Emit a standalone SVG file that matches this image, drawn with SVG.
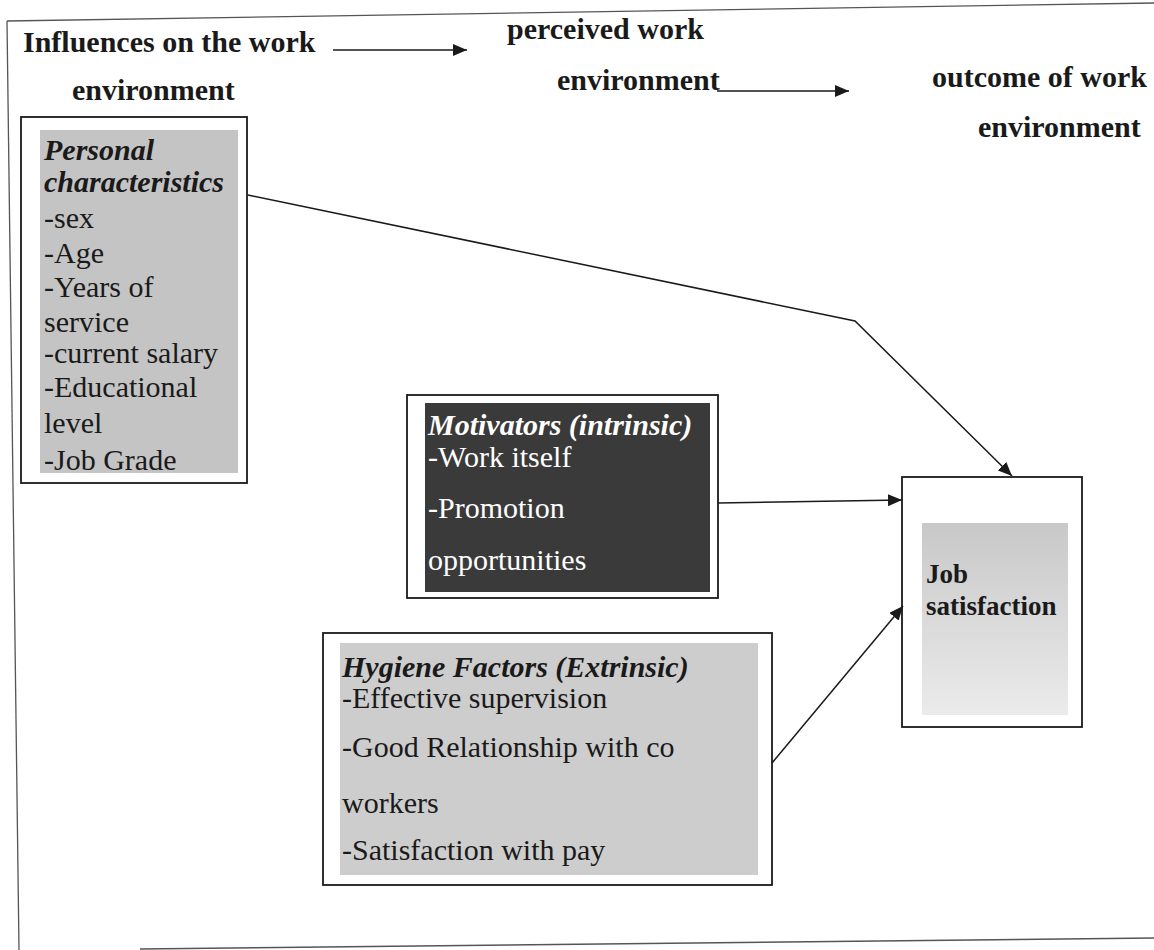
<svg xmlns="http://www.w3.org/2000/svg" width="1154" height="950" viewBox="0 0 1154 950">
  <defs>
    <marker id="arrow" viewBox="0 0 14 12" refX="14" refY="6" markerWidth="14" markerHeight="12" markerUnits="userSpaceOnUse" orient="auto">
      <path d="M0,0 L14,6 L0,12 Z" fill="#1a1a1a"/>
    </marker>
    <linearGradient id="jobFill" x1="0" y1="0" x2="0" y2="1">
      <stop offset="0" stop-color="#c8c8c8"/>
      <stop offset="1" stop-color="#ebebeb"/>
    </linearGradient>
  </defs>
  <style>
    text { font-family: "Liberation Serif", "Times New Roman", serif; font-size: 30px; fill: #1a1a1a; }
    .head { font-weight: bold; }
    .title { font-weight: bold; font-style: italic; }
    .light { fill: #ffffff; }
    .box { fill: #ffffff; stroke: #1a1a1a; stroke-width: 1.8; }
    .frame { fill: none; stroke: #555555; stroke-width: 1.3; }
    .link { fill: none; stroke: #1a1a1a; stroke-width: 1.5; }
  </style>

  <rect width="1154" height="950" fill="#ffffff"/>

  <!-- page frame -->
  <g id="frame">
    <line class="frame" x1="7" y1="21" x2="1154" y2="3"/>
    <line class="frame" x1="7" y1="21" x2="19" y2="950"/>
    <line class="frame" x1="140" y1="949" x2="1154" y2="938"/>
  </g>

  <!-- column headings -->
  <g id="headings">
    <text class="head" x="23" y="52">Influences on the work</text>
    <text class="head" x="72" y="100">environment</text>
    <text class="head" x="507" y="39">perceived work</text>
    <text class="head" x="557" y="90">environment</text>
    <text class="head" x="932" y="87">outcome of work</text>
    <text class="head" x="978" y="137">environment</text>
    <line class="link" x1="333" y1="50" x2="467" y2="50" marker-end="url(#arrow)"/>
    <line class="link" x1="717" y1="91" x2="849" y2="91" marker-end="url(#arrow)"/>
  </g>

  <!-- personal characteristics -->
  <g id="personal">
    <rect class="box" x="21" y="117" width="226" height="366"/>
    <rect x="40" y="130" width="198" height="343" fill="#c4c4c4"/>
    <text class="title" x="44" y="160">Personal</text>
    <text class="title" x="44" y="192">characteristics</text>
    <text x="44" y="228">-sex</text>
    <text x="44" y="263">-Age</text>
    <text x="44" y="297">-Years of</text>
    <text x="44" y="332">service</text>
    <text x="44" y="363">-current salary</text>
    <text x="44" y="397">-Educational</text>
    <text x="44" y="433">level</text>
    <text x="44" y="470">-Job Grade</text>
  </g>

  <!-- motivators -->
  <g id="motivators">
    <rect class="box" x="407" y="395" width="311" height="203"/>
    <rect x="425" y="403" width="285" height="189" fill="#3a3a3a"/>
    <text class="title light" x="428" y="435">Motivators (intrinsic)</text>
    <text class="light" x="428" y="467">-Work itself</text>
    <text class="light" x="428" y="518">-Promotion</text>
    <text class="light" x="428" y="570">opportunities</text>
  </g>

  <!-- hygiene factors -->
  <g id="hygiene">
    <rect class="box" x="323" y="633" width="449" height="252"/>
    <rect x="340" y="643" width="418" height="232" fill="#cdcdcd"/>
    <text class="title" x="342" y="677">Hygiene Factors (Extrinsic)</text>
    <text x="342" y="708">-Effective supervision</text>
    <text x="342" y="757">-Good Relationship with co</text>
    <text x="342" y="813">workers</text>
    <text x="342" y="860">-Satisfaction with pay</text>
  </g>

  <!-- job satisfaction -->
  <g id="job">
    <rect class="box" x="902" y="477" width="180" height="250"/>
    <rect x="922" y="523" width="146" height="192" fill="url(#jobFill)"/>
    <text class="head" x="926" y="583" style="font-size:27px">Job</text>
    <text class="head" x="926" y="615" style="font-size:27px">satisfaction</text>
  </g>

  <!-- connectors -->
  <g id="connectors">
    <polyline class="link" points="248,195 855,321 1012,476" marker-end="url(#arrow)"/>
    <line class="link" x1="718" y1="503" x2="902" y2="500" marker-end="url(#arrow)"/>
    <line class="link" x1="772" y1="763" x2="903" y2="606" marker-end="url(#arrow)"/>
  </g>
</svg>
